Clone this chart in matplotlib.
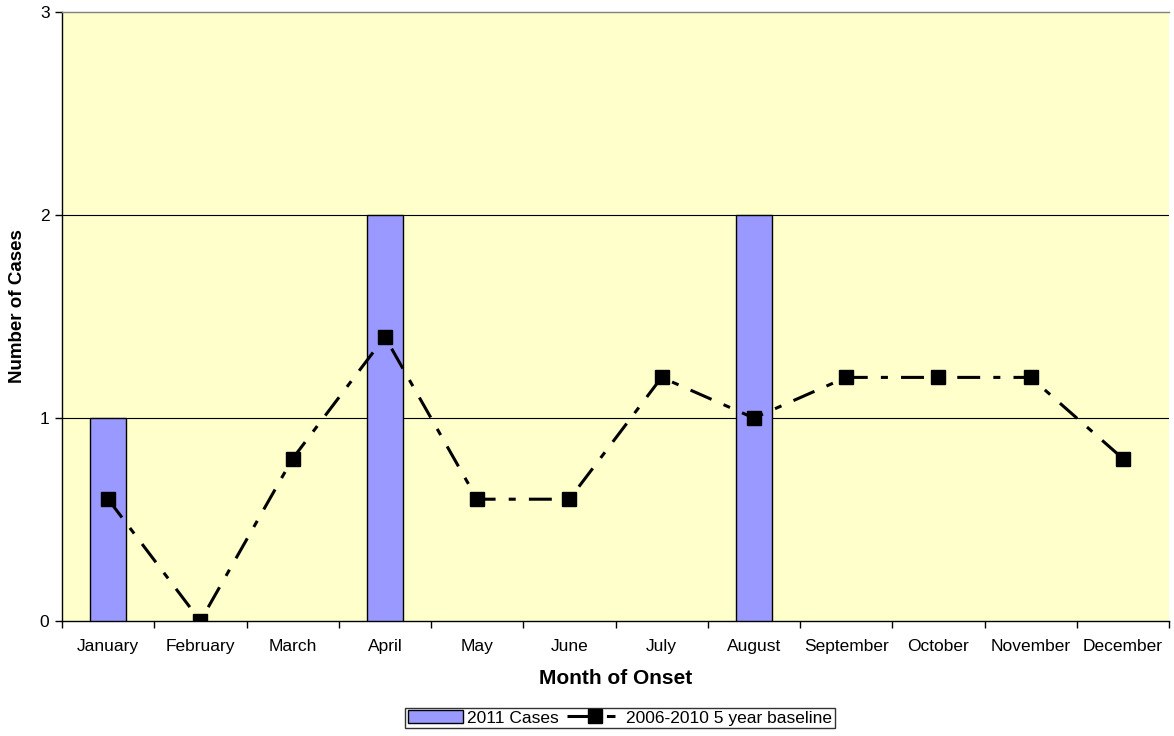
import matplotlib
matplotlib.use("Agg")
import matplotlib.pyplot as plt
from matplotlib.lines import Line2D
import numpy as np

months = ["January", "February", "March", "April", "May", "June", "July",
          "August", "September", "October", "November", "December"]
cases_2011 = [1, 0, 0, 2, 0, 0, 0, 2, 0, 0, 0, 0]
baseline = [0.6, 0.0, 0.8, 1.4, 0.6, 0.6, 1.2, 1.0, 1.2, 1.2, 1.2, 0.8]

plt.rcParams["font.family"] = ["Liberation Sans", "DejaVu Sans"]

fig = plt.figure(figsize=(11.74, 7.36), dpi=100)
ax = fig.add_axes([62 / 1174, 1 - 621 / 736, 1107 / 1174, 609 / 736])
ax.set_facecolor("#FFFFCC")

x = np.arange(len(months))
bars = ax.bar(x, cases_2011, width=0.39, color="#9999FF", edgecolor="black",
              linewidth=1.0, zorder=3, label="2011 Cases")
# empty months get no outline along the baseline
for rect, v in zip(bars.patches, cases_2011):
    if v == 0:
        rect.set_visible(False)

line, = ax.plot(x, baseline, color="black", linewidth=2.2, marker="s",
                markersize=9.5, zorder=4, label="2006-2010 5 year baseline")
line.set_dashes((7.5, 4.3, 2.3, 4.3))

# legend sample: solid run through the marker, then one short dash
line_key = Line2D([], [], color="black", linewidth=2.2, marker="s", markersize=9.5)
line_key.set_dashes((10.9, 2.0, 2.8, 60))

ax.set_xlim(-0.5, len(months) - 0.5)
ax.set_ylim(0, 3)
ax.set_yticks([0, 1, 2, 3])
ax.set_xticks(x)
ax.set_xticklabels(months, fontsize=12.5)
ax.set_xticks(np.arange(-0.5, len(months)), minor=True)
ax.tick_params(axis="x", which="major", length=0, pad=13)
ax.tick_params(axis="x", which="minor", length=5, width=1, color="black", direction="out")
ax.tick_params(axis="y", length=5, width=1, direction="out", labelsize=12.5, pad=4)

for yv in [1, 2]:
    ax.axhline(yv, color="black", linewidth=0.8, zorder=1)

ax.spines["right"].set_visible(False)
ax.spines["top"].set_color("#808080")
ax.spines["top"].set_linewidth(1.0)
ax.spines["left"].set_linewidth(1.0)
ax.spines["bottom"].set_linewidth(1.0)

ax.set_xlabel("Month of Onset", fontsize=15, fontweight="bold")
ax.xaxis.set_label_coords(0.5, -(669 - 621) / 609)
ax.set_ylabel("Number of Cases", fontsize=13.5, fontweight="bold", va="center")
ax.yaxis.set_label_coords((18 - 62) / 1107, (621 - 306) / 609)

leg = fig.legend(handles=[bars, line_key], labels=["2011 Cases", "2006-2010 5 year baseline"],
                 loc="center", bbox_to_anchor=(620 / 1174, 1 - 718 / 736),
                 ncol=2, frameon=True, fancybox=False, edgecolor="black", fontsize=12.5,
                 handlelength=3.2, handletextpad=0.2, columnspacing=0.5, borderpad=0.15,
                 borderaxespad=0)
leg.get_frame().set_linewidth(1.0)

fig.savefig("out.png", dpi=100, facecolor="white")
